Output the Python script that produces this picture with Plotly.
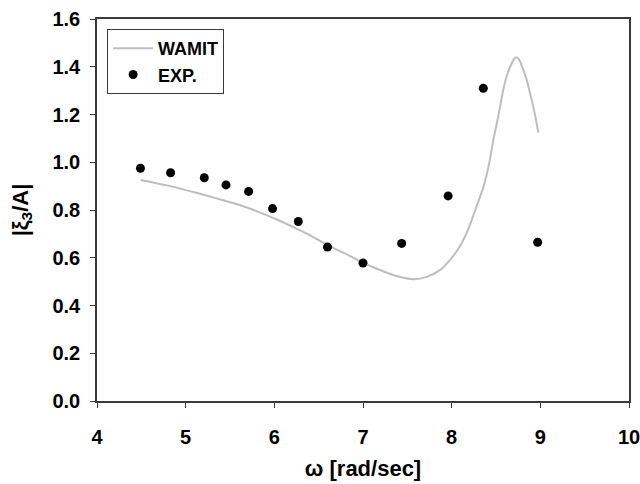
import plotly.graph_objects as go

# WAMIT prediction
wamit_w = [4.49, 4.8, 5.12, 5.4, 5.61, 5.85, 6.06, 6.25, 6.4, 6.59, 6.8, 7.0, 7.15, 7.27, 7.42, 7.57,
           7.72, 7.87, 7.98, 8.09, 8.17, 8.24, 8.3, 8.36, 8.42, 8.47, 8.53, 8.58, 8.62, 8.66, 8.7,
           8.725, 8.76, 8.8, 8.846, 8.88, 8.92, 8.95, 8.977]
wamit_a = [0.926, 0.902, 0.872, 0.843, 0.821, 0.788, 0.755, 0.722, 0.695, 0.655, 0.617, 0.58, 0.555,
           0.537, 0.519, 0.51, 0.52, 0.549, 0.59, 0.646, 0.705, 0.772, 0.835, 0.898, 0.99, 1.093,
           1.2, 1.30, 1.36, 1.40, 1.43, 1.44, 1.43, 1.395, 1.345, 1.295, 1.233, 1.18, 1.124]

# Experiment
exp_w = [4.49, 4.83, 5.21, 5.455, 5.71, 5.98, 6.27, 6.6, 7.0, 7.436, 7.96, 8.357, 8.97]
exp_a = [0.975, 0.956, 0.935, 0.905, 0.878, 0.806, 0.752, 0.645, 0.578, 0.66, 0.859, 1.31, 0.665]

xticks = [4, 5, 6, 7, 8, 9, 10]
yticks = [0.0, 0.2, 0.4, 0.6, 0.8, 1.0, 1.2, 1.4, 1.6]

font_family = "Liberation Sans, Arial, sans-serif"

fig = go.Figure()
fig.add_trace(go.Scatter(x=wamit_w, y=wamit_a, mode="lines", name="<b>WAMIT</b>",
                         line=dict(color="#bdbdbd", width=2, shape="spline", smoothing=0.8)))
fig.add_trace(go.Scatter(x=exp_w, y=exp_a, mode="markers", name="<b>EXP.</b>",
                         marker=dict(color="black", size=9)))

axis_common = dict(showline=True, linecolor="#3a3a3a", linewidth=1.5, mirror=True,
                   ticks="outside", ticklen=5, tickwidth=1.2, tickcolor="#3a3a3a",
                   showgrid=False, zeroline=False, automargin=False,
                   ticklabeloverflow="allow",
                   tickfont=dict(family=font_family, size=20, color="black"))

fig.update_xaxes(range=[4, 10], tickvals=xticks, ticktext=[f"<b>{v}</b>" for v in xticks],
                 ticklabelstandoff=12,
                 title=dict(text="<b>ω [rad/sec]</b>", font=dict(family=font_family, size=22, color="black"),
                            standoff=14),
                 **axis_common)
fig.update_yaxes(range=[0, 1.6], tickvals=yticks, ticktext=[f"<b>{v:.1f}</b>" for v in yticks],
                 ticklabelstandoff=6,
                 title=dict(text="<b>|ξ<sub>3</sub>/A|</b>", font=dict(family=font_family, size=22, color="black"),
                            standoff=18),
                 **axis_common)

fig.update_layout(
    width=640, height=484,
    margin=dict(l=97, r=11, t=19, b=83),
    paper_bgcolor="white", plot_bgcolor="white",
    showlegend=True,
    legend=dict(x=0.019, y=0.974, xanchor="left", yanchor="top",
                bordercolor="#3a3a3a", borderwidth=1, bgcolor="white",
                font=dict(family=font_family, size=18, color="black"),
                itemwidth=40, tracegroupgap=0, entrywidth=80, entrywidthmode="pixels"),
)

fig.write_html("out.html")
